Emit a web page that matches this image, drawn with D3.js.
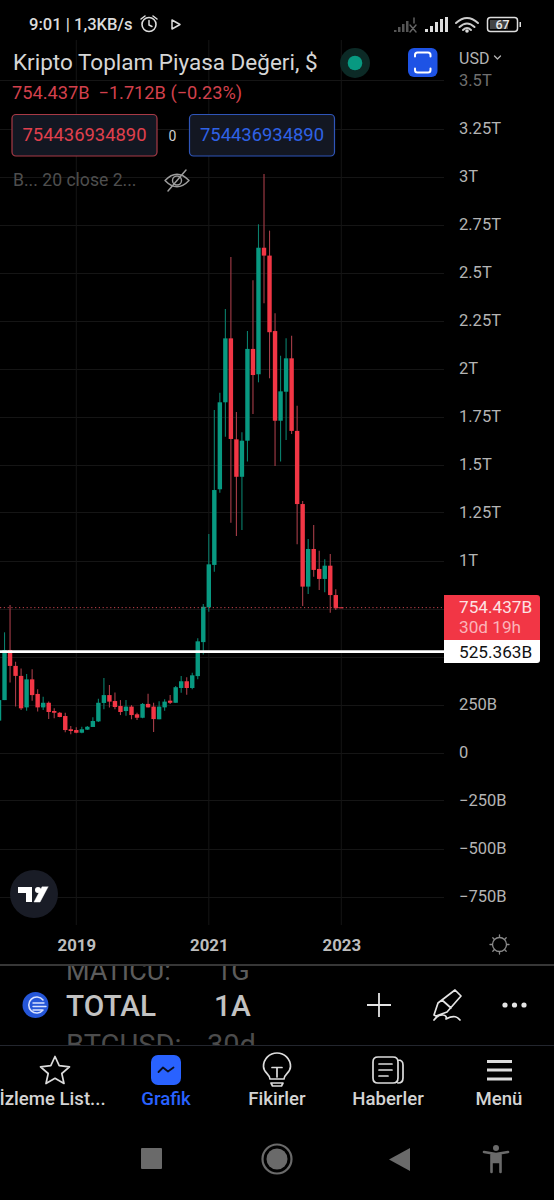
<!DOCTYPE html>
<html><head><meta charset="utf-8">
<script src="https://cdn.jsdelivr.net/npm/d3@7/dist/d3.min.js"></script>
<style>html,body{margin:0;background:#000;overflow:hidden}svg{display:block}text{font-family:Roboto,sans-serif}</style>
</head><body><div id="c"></div>
<script>
// Monthly candles in billions USD. monthIndex 0 = Jan 2019.
const firstMonth = -14;
const opens  = [166,273,534,451,399,235,381,305,235,259,216,207,190,121,117,103,119,133,162,258,299,268,242,216,239,199,181,253,239,173,235,270,259,336,371,336,398,575,756,977,1371,1824,2157,1631,1436,1624,2102,1970,2629,2588,2195,1728,1879,2053,1675,1294,864,1060,956,904,973,820,756];
const closes = [273,534,451,399,230,381,299,235,259,211,207,185,117,112,103,121,134,164,259,299,265,237,211,239,195,181,253,235,174,239,265,259,340,371,336,402,579,759,980,1367,1824,2157,1633,1436,1624,2102,1966,2629,2588,2189,1728,1881,2053,1675,1294,864,1060,951,904,973,820,751,754];
const highs  = [290,626,768,473,438,409,433,329,291,265,230,211,207,138,131,134,138,183,280,388,352,313,273,273,247,207,258,306,259,267,277,299,346,398,392,416,595,773,1138,1784,1874,2310,2581,1773,1668,2195,2459,2751,3013,2718,2288,2067,2157,2171,1806,1310,1112,1185,1051,1006,1034,850,757];
const lows   = [150,273,364,239,221,218,270,213,221,174,178,183,105,95,100,100,117,133,159,225,235,225,195,192,173,169,178,235,107,173,218,253,259,311,301,329,381,511,733,942,1353,1645,1197,1128,1159,1515,1763,1928,2340,1949,1492,1515,1628,1659,1084,763,826,916,846,834,728,742,753];
const yTickValues = [3500,3250,3000,2750,2500,2250,2000,1750,1500,1250,1000,250,0,-250,-500,-750];
const gridValues = [3500,3250,3000,2750,2500,2250,2000,1750,1500,1250,1000,750,500,250,0,-250,-500,-750];
const xTickMonths = [0,24,48];
const xTickLabels = ["2019","2021","2023"];
const lastPrice = 754.437, refPrice = 525.363;
const tabLabels = ["İzleme List...","Grafik","Fikirler","Haberler","Menü"];

const W=554,H=1200, chartR=444;
const svg=d3.select("#c").append("svg").attr("width",W).attr("height",H).style("background","#000");
const y=d3.scaleLinear().domain([0,3000]).range([752.5,176.5]);
const x=d3.scaleLinear().domain([0,48]).range([76.3,341.3]);
const fmtY=v=>{if(v===0)return "0";const s=v<0?"−":"",a=Math.abs(v);return s+(a>=1000?(a/1000)+"T":a+"B")};
const candles=opens.map((o,i)=>({m:firstMonth+i,o,c:closes[i],h:highs[i],l:lows[i]}));
const GREEN="#089981",RED="#f23645";
const defs=svg.append("defs");
defs.append("clipPath").attr("id","plot").append("rect").attr("x",0).attr("y",40).attr("width",chartR).attr("height",885);
defs.append("clipPath").attr("id","scroll").append("rect").attr("x",0).attr("y",966).attr("width",W).attr("height",79);
defs.append("clipPath").attr("id","scrollTop").append("rect").attr("x",0).attr("y",966).attr("width",183).attr("height",79);

// grid
const grid=svg.append("g").attr("stroke","#151515").attr("stroke-width",1);
grid.selectAll(".h").data(gridValues).join("line").attr("x1",0).attr("x2",chartR).attr("y1",d=>Math.round(y(d))+.5).attr("y2",d=>Math.round(y(d))+.5);
grid.selectAll(".v").data(xTickMonths).join("line").attr("y1",40).attr("y2",925).attr("x1",d=>x(d)).attr("x2",d=>x(d));

// candles
const plot=svg.append("g").attr("clip-path","url(#plot)");
plot.selectAll(".w").data(candles).join("line").attr("x1",d=>x(d.m)).attr("x2",d=>x(d.m)).attr("y1",d=>y(d.h)).attr("y2",d=>y(d.l))
 .attr("stroke",d=>d.c>=d.o?"#0a7f6c":"#a63d48").attr("stroke-width",1.1);
plot.selectAll(".b").data(candles).join("rect").attr("x",d=>x(d.m)-2.2).attr("width",4.4)
 .attr("y",d=>y(Math.max(d.o,d.c))).attr("height",d=>Math.max(1,Math.abs(y(d.o)-y(d.c))))
 .attr("fill",d=>d.c>=d.o?GREEN:RED);

// price lines
svg.append("line").attr("x1",0).attr("x2",chartR).attr("y1",y(lastPrice)).attr("y2",y(lastPrice)).attr("stroke","#c9444f").attr("stroke-width",1).attr("stroke-dasharray","1.2 2.6");
svg.append("line").attr("x1",0).attr("x2",chartR).attr("y1",y(refPrice)).attr("y2",y(refPrice)).attr("stroke","#fff").attr("stroke-width",2.6);

// axes
const yAxis=svg.append("g").attr("transform","translate(459,0)").call(d3.axisRight(y).tickValues(yTickValues).tickFormat(fmtY).tickSize(0).tickPadding(0));
yAxis.select(".domain").remove();
yAxis.selectAll("text").attr("fill",d=>d===3500?"#6f6f6f":"#b4b4b4").style("font-size","16.5px").style("font-family","Roboto,sans-serif");
const xAxis=svg.append("g").attr("transform","translate(0,939)").call(d3.axisBottom(x).tickValues(xTickMonths).tickFormat((d,i)=>xTickLabels[i]).tickSize(0).tickPadding(0));
xAxis.select(".domain").remove();
xAxis.selectAll("text").attr("fill","#bdbdbd").style("font-size","16.8px").style("font-weight","700").style("font-family","Roboto,sans-serif");

// helpers
const T=(s,px,py,size,fill,opt={})=>svg.append("text").attr("x",px).attr("y",py).attr("font-size",size).attr("fill",fill)
 .attr("font-weight",opt.w||400).attr("text-anchor",opt.a||"start").style("white-space","pre").text(s);
const P=(d,o={})=>svg.append("path").attr("d",d).attr("fill",o.fill||"none").attr("stroke",o.stroke||"none").attr("stroke-width",o.sw||1).attr("stroke-linecap",o.cap||"round").attr("stroke-linejoin","round");

// price tags
P("M444 595H537a3 3 0 0 1 3 3V640H444Z",{fill:"#f23645"});
P("M444 640H540V660a3 3 0 0 1-3 3H444Z",{fill:"#fff"});
T("754.437B",459,613,17.2,"#fde2e4");
T("30d 19h",459,633,17.2,"#fbb3b9");
T("525.363B",459,658,17.2,"#111");

// status bar
T("9:01 | 1,3KB/s",29,30,16.6,"#dcdcdc",{w:500});
svg.append("circle").attr("cx",149).attr("cy",24.5).attr("r",7).attr("fill","none").attr("stroke","#ddd").attr("stroke-width",1.6);
P("M149 20.5V25L152 26.5M141 19L145 16M157 19L153 16",{stroke:"#ddd",sw:1.5});
P("M172 20L180 24.5L172 29Z",{stroke:"#ddd",sw:1.5});
[[394,2],[398,5],[402,8],[406,11]].forEach(b=>svg.append("rect").attr("x",b[0]).attr("y",32-b[1]).attr("width",2.5).attr("height",b[1]).attr("fill","#555"));
P("M410 25L416 32M416 25L410 32M414 18V23",{stroke:"#666",sw:1.4});
[[425,3],[430,6],[435,10],[440,13],[445,15]].forEach(b=>svg.append("rect").attr("x",b[0]).attr("y",32-b[1]).attr("width",3).attr("height",b[1]).attr("fill","#ddd"));
P("M456 23Q467 13 478 23M459.5 27Q467 20 474.5 27M463 30Q467 26 471 30",{stroke:"#ccc",sw:2});
svg.append("circle").attr("cx",467).attr("cy",31).attr("r",1.8).attr("fill","#ddd");
svg.append("rect").attr("x",487.5).attr("y",17.5).attr("width",30).attr("height",14).attr("rx",3).attr("fill","none").attr("stroke","#ddd").attr("stroke-width",1.5);
svg.append("rect").attr("x",490).attr("y",20).attr("width",18).attr("height",9).attr("fill","#444");
T("67",502.5,29,12.5,"#e8e8e8",{a:"middle",w:500});
svg.append("rect").attr("x",519.5).attr("y",22).attr("width",1.5).attr("height",5).attr("fill","#ddd");

// header
T("Kripto Toplam Piyasa Değeri, $",13,70,22.5,"#d6d6d6");
svg.append("circle").attr("cx",355).attr("cy",63).attr("r",15).attr("fill","#0c2a26");
svg.append("circle").attr("cx",355).attr("cy",63).attr("r",7.3).attr("fill","#089981");
svg.append("rect").attr("x",408).attr("y",48).attr("width",29.5).attr("height",29).attr("rx",6).attr("fill","#1e53e5");
P("M415 56.5V55a2.5 2.5 0 0 1 2.5-2.5H428a2.5 2.5 0 0 1 2.5 2.5V56.5M415 68.5V70a2.5 2.5 0 0 0 2.5 2.5H428a2.5 2.5 0 0 0 2.5-2.5V68.5",{stroke:"#fff",sw:2});
T("USD",459,64,16,"#b4b4b4");
P("M494.5 56L497.5 59L500.5 56",{stroke:"#b4b4b4",sw:1.3});
T("754.437B  −1.712B (−0.23%)",12,99,18.2,"#d2404c");
svg.append("rect").attr("x",12).attr("y",114.5).attr("width",145).attr("height",41.5).attr("rx",4).attr("fill","#131722").attr("stroke","#a83a46").attr("stroke-width",1.2);
T("754436934890",84.5,141,18.4,"#e0404d",{a:"middle"});
T("0",172.5,141,14,"#cfcfcf",{a:"middle"});
svg.append("rect").attr("x",189.5).attr("y",114.5).attr("width",145).attr("height",41.5).attr("rx",4).attr("fill","#131722").attr("stroke","#2f55b8").attr("stroke-width",1.2);
T("754436934890",262,141,18.4,"#2f62e6",{a:"middle"});
T("B... 20 close 2...",13,186,17.6,"#4e4e4e");
P("M165 180.5Q177 168 189 180.5Q177 193 165 180.5Z",{stroke:"#9c9c9c",sw:1.5});
svg.append("circle").attr("cx",177).attr("cy",180.5).attr("r",4.5).attr("fill","none").attr("stroke","#9c9c9c").attr("stroke-width",1.4);
P("M168 191L186 170",{stroke:"#9c9c9c",sw:1.5});

// logo
svg.append("circle").attr("cx",34).attr("cy",894).attr("r",24).attr("fill","#191c26");
P("M18 887H32V902H26V893H18Z",{fill:"#fff"});
svg.append("circle").attr("cx",38).attr("cy",890).attr("r",3).attr("fill","#fff");
P("M48 887L40 902H34L42 887Z",{fill:"#fff",stroke:"#fff",sw:.5});

// sun
svg.append("circle").attr("cx",499.5).attr("cy",944.5).attr("r",7).attr("fill","none").attr("stroke","#8a8a8a").attr("stroke-width",1.3);
P("M499.5 935V937M499.5 952V954M490 944.5H492M507 944.5H509M492.8 937.8L494.2 939.2M504.8 949.8L506.2 951.2M506.2 937.8L504.8 939.2M494.2 949.8L492.8 951.2",{stroke:"#8a8a8a",sw:1.3});

// bottom toolbar
const scA=svg.append("g").attr("clip-path","url(#scrollTop)");
scA.append("text").attr("x",66).attr("y",980).attr("font-size",27).attr("fill","#5c5c5c").text("MATICU:");
const sc=svg.append("g").attr("clip-path","url(#scroll)");
sc.append("text").attr("x",216).attr("y",980).attr("font-size",27).attr("fill","#5c5c5c").text("1G");
sc.append("text").attr("x",66).attr("y",1054.5).attr("font-size",29).attr("fill","#4c4c4c").text("BTCUSD:");
sc.append("text").attr("x",207).attr("y",1054.5).attr("font-size",29).attr("fill","#4c4c4c").text("30d");
svg.append("line").attr("x1",0).attr("x2",W).attr("y1",965).attr("y2",965).attr("stroke","#4a4a4a").attr("stroke-width",1.4);
svg.append("line").attr("x1",0).attr("x2",W).attr("y1",1045.5).attr("y2",1045.5).attr("stroke","#23262e").attr("stroke-width",1);
svg.append("circle").attr("cx",35.5).attr("cy",1005).attr("r",13).attr("fill","#2556d8");
P("M43 1000A8 8 0 1 0 43 1010",{stroke:"#d8e2ff",sw:1.6});
P("M33 1003H44M33 1006.5H46M33 1010H42",{stroke:"#d8e2ff",sw:1.4});
T("TOTAL",66,1016,29.8,"#c2c2c2",{w:500});
T("1A",214,1016,29.8,"#c2c2c2",{w:500});
P("M379 993V1017M367 1005H391",{stroke:"#e4e4e4",sw:1.8,cap:"butt"});
P("M434 1015L438 1003L455 990L461 996L447 1012L436 1016ZM442 1000L451 1008M434 1020C440 1012 448 1015 446 1019C455 1014 458 1018 460 1020",{stroke:"#e4e4e4",sw:1.7});
[505,514.5,524].forEach(c=>svg.append("circle").attr("cx",c).attr("cy",1005).attr("r",2.6).attr("fill","#e4e4e4"));

// tab bar
const tabX=[52.5,166,277,388,499];
tabLabels.forEach((s,i)=>T(s,tabX[i],1105,18.6,i===1?"#2962ff":"#d4d4d4",{a:"middle",w:500}));
P("M55 1056.5L59.2 1065.7L69.5 1066.8L61.8 1073.5L64 1083.5L55 1078.3L46 1083.5L48.2 1073.5L40.5 1066.8L50.8 1065.7Z",{stroke:"#dcdcdc",sw:1.7});
svg.append("rect").attr("x",151).attr("y",1055).attr("width",30).attr("height",30).attr("rx",7).attr("fill","#2962ff");
P("M158.5 1072L163 1067.5L168 1071.5L173.5 1067.5",{stroke:"#0a0f20",sw:1.8});
P("M270 1079C270 1074 263.5 1073 263.5 1066.5A13.5 13.5 0 1 1 290.5 1066.5C290.5 1073 284 1074 284 1079ZM271 1083H283L281.5 1086H272.5ZM272 1067.5H282M277 1067.5V1077",{stroke:"#dcdcdc",sw:1.7});
P("M378 1057H393Q398 1057 398 1062V1078Q398 1083 393 1083H378Q373 1083 373 1078V1062Q373 1057 378 1057ZM398 1060Q403 1060 403 1065V1078Q403 1083 398 1083M379 1064H392M379 1070H392M379 1076H388",{stroke:"#dcdcdc",sw:1.7});
P("M487 1061.5H512M487 1070H512M487 1079H512",{stroke:"#dcdcdc",sw:2.8,cap:"butt"});

// nav bar
svg.append("rect").attr("x",141).attr("y",1148).attr("width",21).attr("height",21).attr("rx",1).attr("fill","#6a6a6a");
svg.append("circle").attr("cx",277).attr("cy",1159).attr("r",14.5).attr("fill","none").attr("stroke","#6a6a6a").attr("stroke-width",2.2);
svg.append("circle").attr("cx",277).attr("cy",1159).attr("r",10.5).attr("fill","#6a6a6a");
P("M410 1148V1171L389 1159.5Z",{fill:"#6a6a6a"});
svg.append("circle").attr("cx",496).attr("cy",1148).attr("r",3).attr("fill","#6a6a6a");
P("M484 1152L496 1154L508 1152M491.5 1154V1172M500.5 1154V1172M491.5 1162H500.5",{stroke:"#6a6a6a",sw:2.6});
P("M491.5 1154H500.5V1162H491.5Z",{fill:"#6a6a6a"});
</script>
</body></html>
